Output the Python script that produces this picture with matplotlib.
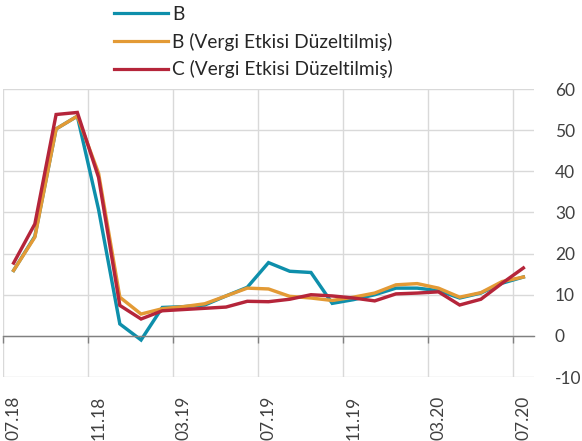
import matplotlib
matplotlib.use("Agg")
import matplotlib.pyplot as plt
import numpy as np

plt.rcParams['font.family'] = ['Lato', 'DejaVu Sans']
plt.rcParams['axes.unicode_minus'] = False

months = ["07.18","08.18","09.18","10.18","11.18","12.18","01.19","02.19","03.19","04.19",
          "05.19","06.19","07.19","08.19","09.19","10.19","11.19","12.19","01.20","02.20",
          "03.20","04.20","05.20","06.20","07.20"]
B = [15.9, 24.2, 50.3, 53.4, 30.7, 2.9, -1.0, 6.9, 7.1, 7.5, 9.7, 11.8, 17.8, 15.7, 15.4,
     7.9, 8.8, 10.0, 11.6, 11.6, 11.0, 9.2, 10.4, 12.8, 14.3]
B_adj = [15.9, 24.0, 50.3, 53.4, 39.5, 9.4, 5.3, 6.6, 7.1, 7.8, 9.7, 11.6, 11.4, 9.6, 9.2,
         8.6, 9.4, 10.4, 12.4, 12.7, 11.6, 9.4, 10.5, 13.2, 14.3]
C_adj = [17.7, 27.2, 53.8, 54.3, 38.5, 7.4, 4.1, 6.1, 6.4, 6.7, 7.0, 8.4, 8.3, 8.9, 10.0,
         9.7, 9.2, 8.5, 10.2, 10.4, 10.7, 7.5, 8.9, 12.8, 16.5]
labels = ["B", "B (Vergi Etkisi Düzeltilmiş)", "C (Vergi Etkisi Düzeltilmiş)"]
colors = ["#0e8fab", "#e39a35", "#b5253a"]
yticks = [-10, 0, 10, 20, 30, 40, 50, 60]

fig = plt.figure(figsize=(5.82, 4.41), dpi=100)
ax = fig.add_axes([3/582, 1-377/441, (534-3)/582, (377-89)/441])

x = np.arange(len(months))
for vals, lab, col in zip([B, B_adj, C_adj], labels, colors):
    ax.plot(x, vals, color=col, lw=2.45, label=lab, solid_joinstyle='miter')

ax.set_xlim(-0.5, len(months) - 0.5)
ax.set_ylim(yticks[0], yticks[-1])
ax.set_yticks(yticks)
ax.yaxis.tick_right()
ax.tick_params(axis='y', length=0, pad=15, labelsize=12.5, labelcolor='#404040')

major = x[::4]
ax.set_xticks(major)
ax.set_xticklabels([months[i] for i in major])
ax.set_xticks(np.arange(-0.5, len(months) - 0.5, 4), minor=True)
ax.tick_params(axis='x', which='major', length=0, pad=43, labelsize=12.5,
               labelcolor='#404040', labelrotation=90)
ax.tick_params(axis='x', which='minor', length=5, direction='out', color='#808080', width=1)

ax.grid(axis='y', which='major', color='#d9d9d9', lw=1)
ax.grid(axis='x', which='minor', color='#d9d9d9', lw=1)
ax.set_axisbelow(True)
for s in ['top', 'right', 'left']:
    ax.spines[s].set_visible(False)
ax.spines['bottom'].set_position(('data', 0))
ax.spines['bottom'].set_color('#808080')
ax.spines['bottom'].set_linewidth(1)

leg = fig.legend(loc='upper left', bbox_to_anchor=(114/582, 1-6/441), frameon=False,
                 borderaxespad=0, borderpad=0, handlelength=2.85, handletextpad=0.2,
                 labelspacing=0.5, fontsize=13.75, labelcolor='#262626')
for h in leg.get_lines():
    h.set_linewidth(2.3)

fig.savefig("out.png", dpi=100)
